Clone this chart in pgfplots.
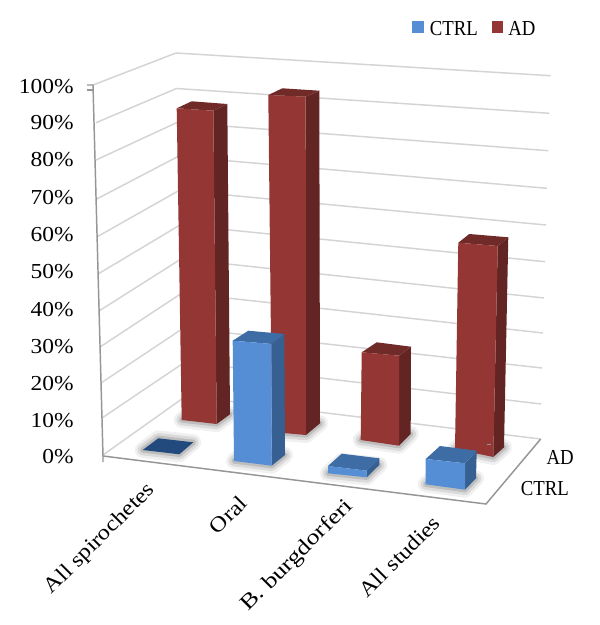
\documentclass[border=0pt]{standalone}
\usepackage{fontspec}
\setmainfont{Liberation Serif}
\usepackage{pgfplots}
\pgfplotsset{compat=1.18}
\definecolor{adF}{HTML}{943634}
\definecolor{adS}{HTML}{632523}
\definecolor{adT}{HTML}{702A28}
\definecolor{ctF}{HTML}{558ED5}
\definecolor{ctS}{HTML}{376092}
\definecolor{ctT}{HTML}{3E6DA6}
\definecolor{ctN}{HTML}{234A7C}
\definecolor{gridc}{HTML}{D4D4D4}
\definecolor{axc}{HTML}{969696}
\newcommand\poly[2]{\addplot[fill=#1,draw=none,forget plot] coordinates {#2} -- cycle;}
\newcommand\gl[1]{\addplot[gridc,line width=1.1pt,forget plot] coordinates {#1};}
\newcommand\ax[1]{\addplot[axc,line width=1.1pt,forget plot] coordinates {#1};}
\newcommand\shadow[1]{%
  \addplot[black,opacity=.06,line width=12pt,line join=round,forget plot] coordinates {#1} -- cycle;
  \addplot[black,opacity=.09,line width=8pt,line join=round,forget plot] coordinates {#1} -- cycle;
  \addplot[black,opacity=.13,line width=4pt,line join=round,forget plot] coordinates {#1} -- cycle;}
% bars: {ftl}{ftr}{btl}{btr}{fbl}{fbr}{sbr}
\newcommand\adbar[7]{%
  \poly{adS}{#2 #4 #7 #6}%
  \poly{adT}{#1 #3 #4 #2}%
  \poly{adF}{#1 #2 #6 #5}}
\newcommand\ctbar[7]{%
  \poly{ctS}{#2 #4 #7 #6}%
  \poly{ctT}{#1 #3 #4 #2}%
  \poly{ctF}{#1 #2 #6 #5}}
\newcommand\T[2]{\scalebox{#1}[1]{\fontsize{16}{16}\selectfont #2}}
\newcommand\lab[2]{\node[anchor=east,inner sep=0pt] at (axis cs:74,#1) {\T{1.1}{#2}};}
\newcommand\cat[4]{\node[anchor=north east,rotate=45,inner sep=0pt] at (axis cs:#1,#2) {\T{#3}{#4}};}
\begin{document}
\begin{tikzpicture}
\begin{axis}[scale only axis,width=450pt,height=468.75pt,xmin=0,xmax=600,ymin=0,ymax=625,y dir=reverse,hide axis,clip=false]
\addplot[fill=white,draw=none,forget plot] coordinates {(0,0)(600,0)(600,625)(0,625)} -- cycle;
% left wall and back wall grid
\gl{(93,85)(176,53)(550.7,75.7)}
\gl{(96,122.7)(176.5,88.5)(549.3,113.3)}
\gl{(96,160)(177,122.5)(548.3,150.7)}
\gl{(96.7,199)(178,156.5)(547,188.3)}
\gl{(97.3,236.7)(179,190.5)(546,225)}
\gl{(98,274)(180,225)(545,261.7)}
\gl{(99,311)(181,259)(544,298)}
\gl{(100,347)(182,293)(543,333)}
\gl{(101,383)(183.5,328)(542,368)}
\gl{(102,418)(185,362)(541.3,404)}
% floor
\gl{(103,455)(186,396)(540.7,439)}
\ax{(87,85)(93,85)(103,456)(103,462)}
\ax{(87,90)(93,90)}
\ax{(103,456)(486,504)(540.7,439)}
% shadows
\shadow{(181.7,420)(216.7,424)(230,414.3)(195,410)}
\shadow{(272,432)(306,435)(320,423.3)(285,420)}
\shadow{(360.7,440)(399,445.7)(410.7,434)(374,430)}
\shadow{(455,449)(493.3,457)(504,447.3)(468,439)}
\shadow{(142.7,450)(158.3,438.3)(193.3,442.3)(179.3,454.3)}
\shadow{(234,461)(271.7,465.7)(285,455)(248,450)}
\shadow{(328,473.3)(366.7,477.3)(379.3,465)(342,461)}
\shadow{(425.7,484.3)(465,489.7)(476,478.3)(440,473)}
% AD (about 90, 95, 25, 58 %)
\adbar{(176.7,108.3)}{(213.3,110.7)}{(191.7,101.3)}{(227.3,104)}{(181.7,420)}{(216.7,424)}{(230,414.3)}
\adbar{(268.3,95)}{(305.7,96.7)}{(282.3,88.3)}{(319.3,90.7)}{(272,432)}{(306,435)}{(320,423.3)}
\adbar{(361.7,352.3)}{(399,355.7)}{(376.7,342.3)}{(411,346.7)}{(360.7,440)}{(399,445.7)}{(410.7,434)}
\adbar{(458.3,242.7)}{(497.7,246)}{(469.3,234)}{(508.3,237.3)}{(455,449)}{(493.3,457)}{(504,447.3)}
\addplot[axc,line width=.7pt,forget plot] coordinates {(486.5,444.3)(491,444.3)};
% CTRL (about 0, 33, 2, 8 %)
\poly{ctN}{(142.7,450)(158.3,438.3)(193.3,442.3)(179.3,454.3)}
\ctbar{(232.7,340.7)}{(271.7,344)}{(248.3,330.7)}{(284.3,334)}{(234,461)}{(271.7,465.7)}{(285,455)}
\ctbar{(328,466)}{(366.7,470.7)}{(341.7,453.7)}{(379.3,458.3)}{(328,473.3)}{(366.7,477.3)}{(379.3,465)}
\ctbar{(425.7,459)}{(465,463.3)}{(440,446)}{(476.7,450.7)}{(425.7,484.3)}{(465,489.7)}{(476,478.3)}
% tick labels
\lab{87}{100\%}
\lab{122.5}{90\%}
\lab{160}{80\%}
\lab{197.5}{70\%}
\lab{235}{60\%}
\lab{272}{50\%}
\lab{310}{40\%}
\lab{347}{30\%}
\lab{384}{20\%}
\lab{421}{10\%}
\lab{457}{0\%}
% categories
\cat{145}{480}{1.14}{All spirochetes}
\cat{238}{494}{1.14}{Oral}
\cat{343}{496}{1.22}{B. burgdorferi}
\cat{431}{514}{1.14}{All studies}
\node[anchor=east,inner sep=0pt] at (axis cs:574,457) {\T{.88}{AD}};
\node[anchor=east,inner sep=0pt] at (axis cs:569,488.5) {\T{.88}{CTRL}};
% legend
\poly{ctF}{(412.3,21)(424,21)(424,32.7)(412.3,32.7)}
\poly{adF}{(491.7,21)(502.7,21)(502.7,32.7)(491.7,32.7)}
\node[anchor=west,inner sep=0pt] at (axis cs:429.5,28.5) {\T{.88}{CTRL}};
\node[anchor=west,inner sep=0pt] at (axis cs:508,28.5) {\T{.88}{AD}};
\end{axis}
\end{tikzpicture}
\end{document}
